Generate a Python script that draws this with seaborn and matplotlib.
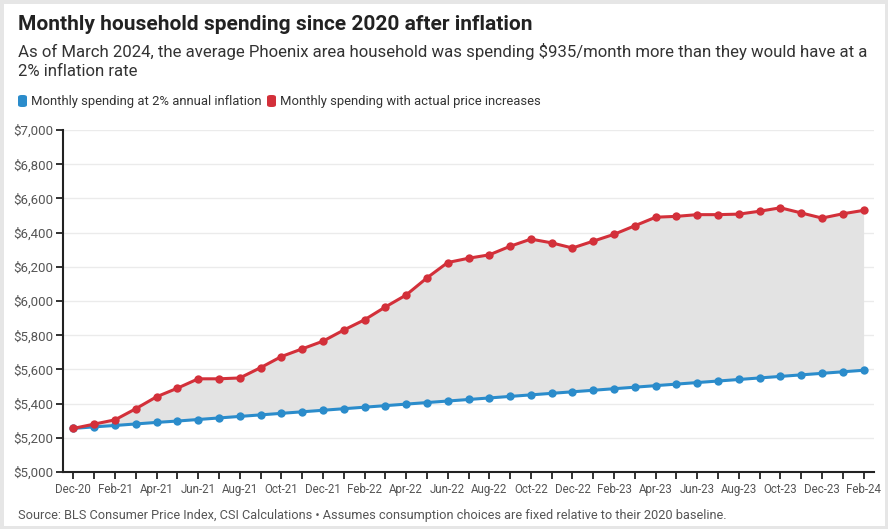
import matplotlib
matplotlib.use("Agg")
import matplotlib.pyplot as plt
import seaborn as sns
import pandas as pd
import numpy as np
from matplotlib.patches import FancyBboxPatch, Rectangle

months = ["Dec-20", "Jan-21", "Feb-21", "Mar-21", "Apr-21", "May-21", "Jun-21", "Jul-21",
          "Aug-21", "Sep-21", "Oct-21", "Nov-21", "Dec-21", "Jan-22", "Feb-22", "Mar-22",
          "Apr-22", "May-22", "Jun-22", "Jul-22", "Aug-22", "Sep-22", "Oct-22", "Nov-22",
          "Dec-22", "Jan-23", "Feb-23", "Mar-23", "Apr-23", "May-23", "Jun-23", "Jul-23",
          "Aug-23", "Sep-23", "Oct-23", "Nov-23", "Dec-23", "Jan-24", "Feb-24"]

spending_2pct = [5255, 5264, 5272, 5281, 5290, 5298, 5307, 5316, 5325, 5334, 5343, 5352,
                 5361, 5370, 5379, 5388, 5397, 5406, 5415, 5424, 5433, 5442, 5451, 5460,
                 5469, 5478, 5487, 5496, 5505, 5514, 5523, 5532, 5541, 5550, 5559, 5568,
                 5577, 5586, 5595]

spending_actual = [5255, 5280, 5305, 5370, 5440, 5490, 5545, 5545, 5550, 5610, 5675, 5720,
                   5765, 5830, 5890, 5965, 6035, 6135, 6225, 6250, 6270, 6320, 6362, 6340,
                   6310, 6350, 6390, 6440, 6490, 6495, 6505, 6505, 6508, 6525, 6545, 6515,
                   6485, 6510, 6530]

series_names = ["Monthly spending at 2% annual inflation",
                "Monthly spending with actual price increases"]
colors = ["#2b8ccb", "#d3303a"]

yticks = [5000, 5200, 5400, 5600, 5800, 6000, 6200, 6400, 6600, 6800, 7000]

title = "Monthly household spending since 2020 after inflation"
subtitle = ("As of March 2024, the average Phoenix area household was spending $935/month more than they would have at a\n"
            "2% inflation rate")
source = "Source: BLS Consumer Price Index, CSI Calculations \u2022 Assumes consumption choices are fixed relative to their 2020 baseline."

sns.set_theme(style="white")
plt.rcParams['font.family'] = ['Roboto', 'DejaVu Sans']

idx = np.arange(len(months))
df = pd.DataFrame({
    "idx": np.concatenate([idx, idx]),
    "value": spending_2pct + spending_actual,
    "series": [series_names[0]] * len(months) + [series_names[1]] * len(months),
})

fig = plt.figure(figsize=(8.88, 5.29), dpi=100)
ax = fig.add_axes([63 / 888, 1 - 472 / 529, (874 - 63) / 888, (472 - 130) / 529])

ax.fill_between(idx, spending_2pct, spending_actual, color="#e3e3e3", zorder=1, lw=0)
sns.lineplot(data=df, x="idx", y="value", hue="series", palette=dict(zip(series_names, colors)),
             marker="o", markersize=6, markeredgewidth=0, linewidth=2.2, ax=ax, legend=False, zorder=3)

ax.set_xlim(-0.5, len(months) - 0.5)
ax.set_ylim(5000, 7000)
ax.set_yticks(yticks)
ax.set_yticklabels([f"${v:,}" for v in yticks])
ax.set_xticks(idx)
ax.set_xticklabels([m if i % 2 == 0 else "" for i, m in enumerate(months)])
ax.set_xlabel("")
ax.set_ylabel("")
ax.grid(axis="y", color="#ebebeb", linewidth=1)
ax.set_axisbelow(True)
for s in ["top", "right"]:
    ax.spines[s].set_visible(False)
for s in ["left", "bottom"]:
    ax.spines[s].set_color("#222222")
    ax.spines[s].set_linewidth(1.5)
ax.tick_params(axis="y", which="both", left=True, length=5, width=1.3, color="#222222",
               labelsize=9.5, labelcolor="#555555", pad=2)
ax.tick_params(axis="x", which="both", bottom=True, length=5, width=1.3, color="#222222",
               labelsize=8.3, labelcolor="#555555", pad=3)

# Titles
fig.text(18 / 888, 1 - 25 / 529, title, fontsize=15, fontweight="bold", color="#222222",
         va="center", ha="left")
fig.text(18 / 888, 1 - 61 / 529, subtitle, fontsize=12.1, color="#333333", va="center", ha="left",
         linespacing=1.25)

# Legend
for name, col, x0 in [(series_names[0], colors[0], 18), (series_names[1], colors[1], 267)]:
    fig.patches.append(FancyBboxPatch((x0 / 888, 1 - 107 / 529), 9 / 888, 12 / 529,
                                      boxstyle="round,pad=0,rounding_size=0.004",
                                      transform=fig.transFigure, facecolor=col, edgecolor="none"))
    fig.text((x0 + 13) / 888, 1 - 101 / 529, name, fontsize=9.4, color="#333333",
             va="center", ha="left")

fig.text(18 / 888, 1 - 515 / 529, source, fontsize=9.2, color="#555555", va="center", ha="left")

fig.patches.append(Rectangle((0, 0), 1, 1, transform=fig.transFigure, fill=False,
                             edgecolor="#e6e6e6", linewidth=5))

fig.savefig("out.png", dpi=100)
